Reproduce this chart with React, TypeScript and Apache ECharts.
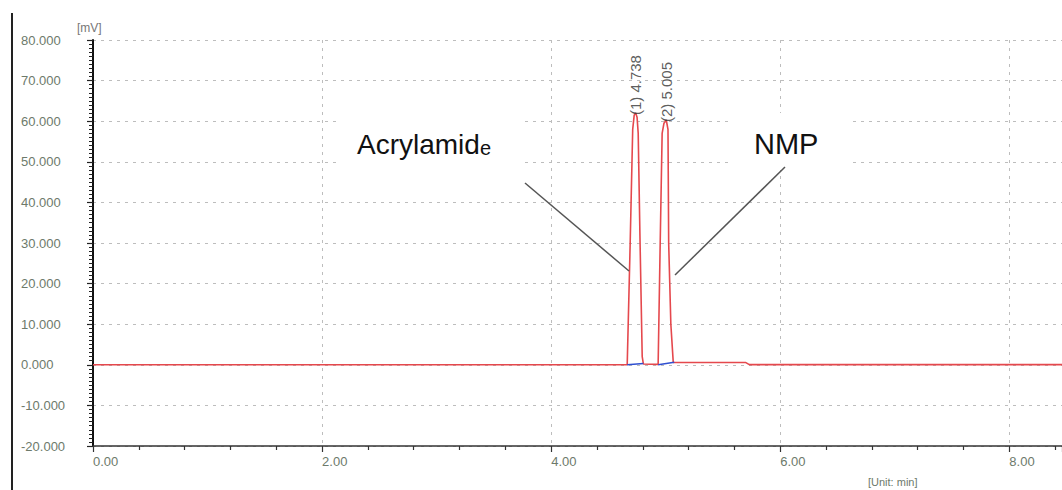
import React, { useEffect, useRef } from "react";
import * as echarts from "echarts";

// Chromatogram trace (time in min, signal in mV)
const traceTime = [
  0, 4.664, 4.69, 4.712, 4.725, 4.738, 4.75, 4.76, 4.775, 4.795, 4.805,
  4.934, 4.952, 4.969, 4.985, 5.005, 5.02, 5.026, 5.045, 5.066, 5.075,
  5.7, 5.73, 8.46,
];
const traceMV = [
  0, 0, 30, 58, 61.5, 62, 61, 57, 32, 2, 0.2,
  0.1, 30, 57, 59.5, 60.3, 58, 30, 10, 0.6, 0.55,
  0.55, 0.05, 0.05,
];

// Integration baselines drawn under each peak
const baseTime = [4.664, 4.805, null, 4.934, 5.075];
const baseMV = [0, 0.3, null, 0, 0.6];

// Peak labels
const peakTimes = [4.738, 5.005];
const peakHeights = [62, 60.3];
const peakNames = ["(1) 4.738", "(2) 5.005"];

// Axes
const xMin = 0;
const xMax = 8.46;
const xInterval = 2;
const yMin = -20;
const yMax = 80;
const yInterval = 10;

const LABEL_COLOR = "#6d7a6b";
const GRID_COLOR = "#bdbdbd";

export default function App() {
  const ref = useRef<HTMLDivElement>(null);

  useEffect(() => {
    if (!ref.current) return;
    const chart = echarts.init(ref.current, undefined, { renderer: "svg" });

    const trace = traceTime.map((t, i) => [t, traceMV[i]]);
    const base = baseTime.map((t, i) => (t === null ? [null, null] : [t, baseMV[i]]));
    const peaks = peakTimes.map((t, i) => [t, peakHeights[i], peakNames[i]]);

    chart.setOption({
      animation: false,
      backgroundColor: "#ffffff",
      grid: { left: 93, right: 0, top: 40, bottom: 44 },
      xAxis: {
        type: "value",
        min: xMin,
        max: xMax,
        interval: xInterval,
        axisLine: { show: true, onZero: false, lineStyle: { color: "#333", width: 1.5 } },
        axisTick: { show: true, length: 6, lineStyle: { color: "#333", width: 1.2 } },
        minorTick: { show: true, splitNumber: 5, length: 4, lineStyle: { color: "#333", width: 1.2 } },
        splitLine: { show: true, lineStyle: { color: GRID_COLOR, type: [3, 5], width: 1 } },
        axisLabel: {
          show: true,
          showMaxLabel: false,
          align: "left",
          margin: 9,
          color: LABEL_COLOR,
          fontFamily: "Liberation Sans",
          fontSize: 13,
          formatter: (v: number) => v.toFixed(2),
        },
      },
      yAxis: {
        type: "value",
        min: yMin,
        max: yMax,
        interval: yInterval,
        axisLine: { show: true, lineStyle: { color: "#111", width: 2 } },
        axisTick: { show: true, length: 6, lineStyle: { color: "#222", width: 1.2 } },
        minorTick: { show: true, splitNumber: 10, length: 4, lineStyle: { color: "#222", width: 1 } },
        splitLine: { show: true, lineStyle: { color: GRID_COLOR, type: [3, 5], width: 1 } },
        axisLabel: {
          show: true,
          align: "left",
          margin: 72,
          color: LABEL_COLOR,
          fontFamily: "Liberation Sans",
          fontSize: 13,
          padding: [4, 0, 0, 0],
          formatter: (v: number) => v.toFixed(3),
        },
      },
      series: [
        {
          type: "line",
          data: trace,
          showSymbol: false,
          symbol: "none",
          lineStyle: { color: "#e5484d", width: 1.6 },
          z: 3,
        },
        {
          type: "line",
          data: base,
          showSymbol: false,
          symbol: "none",
          connectNulls: false,
          lineStyle: { color: "#3050d0", width: 1.5 },
          z: 4,
        },
        {
          type: "scatter",
          data: peaks,
          symbolSize: 0,
          z: 5,
          label: {
            show: true,
            formatter: (p: any) => p.data[2],
            rotate: 90,
            position: "top",
            distance: -2,
            align: "left",
            verticalAlign: "middle",
            color: "#333",
            fontFamily: "Liberation Sans",
            fontSize: 15,
          },
        },
      ],
      graphic: [
        {
          type: "line",
          z: 100,
          shape: { x1: 12, y1: 13, x2: 12, y2: 490 },
          style: { stroke: "#222", lineWidth: 2 },
        },
        {
          type: "text",
          z: 100,
          x: 77,
          y: 28,
          style: {
            text: "[mV]",
            fill: "#777",
            font: "12px 'Liberation Sans'",
            verticalAlign: "middle",
            align: "left",
          },
        },
        {
          type: "text",
          z: 100,
          x: 868,
          y: 482,
          style: {
            text: "[Unit: min]",
            fill: LABEL_COLOR,
            font: "11px 'Liberation Sans'",
            verticalAlign: "middle",
            align: "left",
          },
        },
        {
          type: "rect",
          z: 100,
          shape: { x: 337, y: 120, width: 188, height: 78 },
          style: { fill: "#ffffff" },
        },
        {
          type: "rect",
          z: 100,
          shape: { x: 732, y: 113, width: 121, height: 57 },
          style: { fill: "#ffffff" },
        },
        {
          type: "text",
          z: 101,
          x: 357,
          y: 158,
          style: {
            text: "{a|Acrylamid}{b|e}",
            align: "left",
            verticalAlign: "bottom",
            rich: {
              a: { fontFamily: "Liberation Sans", fontSize: 28, fill: "#111", verticalAlign: "bottom", lineHeight: 28 },
              b: { fontFamily: "Liberation Sans", fontSize: 20, fill: "#111", verticalAlign: "bottom", lineHeight: 24 },
            },
          },
        },
        {
          type: "text",
          z: 101,
          x: 754,
          y: 144,
          style: {
            text: "NMP",
            fill: "#111",
            font: "29px 'Liberation Sans'",
            verticalAlign: "middle",
            align: "left",
          },
        },
        {
          type: "line",
          z: 101,
          shape: { x1: 525, y1: 183, x2: 629, y2: 271 },
          style: { stroke: "#555", lineWidth: 1.5 },
        },
        {
          type: "line",
          z: 101,
          shape: { x1: 785, y1: 167, x2: 675, y2: 275 },
          style: { stroke: "#555", lineWidth: 1.5 },
        },
      ],
    });

    return () => chart.dispose();
  }, []);

  return (
    <div
      ref={ref}
      style={{ position: "fixed", left: 0, top: 0, width: 1062, height: 490 }}
    />
  );
}
